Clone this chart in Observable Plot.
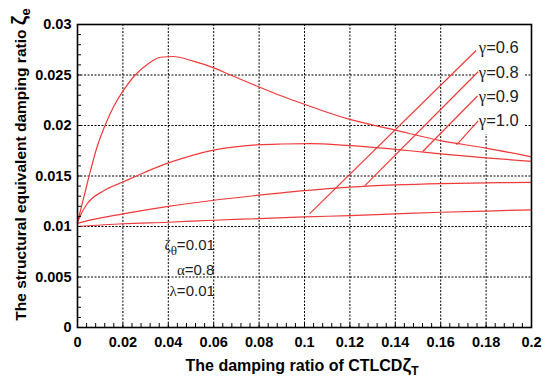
<!DOCTYPE html>
<html><head><meta charset="utf-8">
<script src="https://cdn.jsdelivr.net/npm/d3@7"></script>
<script src="https://cdn.jsdelivr.net/npm/@observablehq/plot@0.6"></script>
<style>
html,body{margin:0;padding:0;background:#fff;}
#chart{width:543px;height:379px;overflow:hidden;}
</style></head><body><div id="chart"></div>
<script>
// ---- tick values & labels ----
const xTickValues = [0, 0.02, 0.04, 0.06, 0.08, 0.1, 0.12, 0.14, 0.16, 0.18, 0.2];
const xTickLabels = ["0", "0.02", "0.04", "0.06", "0.08", "0.1", "0.12", "0.14", "0.16", "0.18", "0.2"];
const yTickValues = [0, 0.005, 0.01, 0.015, 0.02, 0.025, 0.03];
const yTickLabels = ["0", "0.005", "0.01", "0.015", "0.02", "0.025", "0.03"];
const xMinorStep = 0.004;
const yMinorStep = 0.001;

// ---- series ----
const gamma10X = [0, 0.0028, 0.0057, 0.0085, 0.0123, 0.016, 0.02, 0.025, 0.031, 0.0366, 0.042, 0.051, 0.06, 0.0674, 0.08, 0.089, 0.1, 0.107, 0.12, 0.14, 0.16, 0.18, 0.2];
const gamma10Y = [0.0104, 0.0129, 0.0155, 0.0178, 0.0201, 0.0219, 0.0234, 0.0249, 0.0261, 0.02676, 0.02683, 0.02637, 0.02571, 0.0250, 0.02381, 0.0230, 0.0221, 0.02154, 0.0206, 0.01954, 0.0185, 0.01776, 0.0169];

const gamma09X = [0, 0.0015, 0.0041, 0.0116, 0.02, 0.0295, 0.04, 0.0455, 0.06, 0.08, 0.09, 0.1025, 0.12, 0.1465, 0.16, 0.18, 0.2];
const gamma09Y = [0.0104, 0.0112, 0.0122, 0.01355, 0.0144, 0.01535, 0.0163, 0.0167, 0.01756, 0.0181, 0.01817, 0.0182, 0.0180, 0.0175, 0.0172, 0.0168, 0.01645];

const gamma08X = [0, 0.005, 0.02, 0.04, 0.06, 0.08, 0.1, 0.12, 0.14, 0.16, 0.18, 0.2];
const gamma08Y = [0.0103, 0.0106, 0.01125, 0.0120, 0.0126, 0.0131, 0.01355, 0.0139, 0.01412, 0.01425, 0.01432, 0.01437];

const gamma06X = [0, 0.02, 0.04, 0.06, 0.08, 0.1, 0.12, 0.14, 0.16, 0.18, 0.2];
const gamma06Y = [0.0100, 0.01027, 0.01042, 0.01062, 0.01078, 0.01095, 0.01108, 0.01125, 0.01141, 0.01153, 0.01165];

// ---- annotations (data coordinates) ----
const leaderLabels = ["γ=0.6", "γ=0.8", "γ=0.9", "γ=1.0"];
const leaderX1 = [0.1022, 0.1266, 0.1521, 0.1670];
const leaderY1 = [0.01125, 0.01404, 0.01743, 0.01809];
const leaderX2 = [0.1756, 0.1765, 0.1762, 0.1765];
const leaderY2 = [0.02743, 0.02532, 0.02292, 0.02045];
const labelX = [0.1768, 0.1768, 0.1768, 0.1768];
const labelY = [0.02768, 0.02522, 0.02285, 0.02045];
const labelBoxX = [0.1758, 0.1969];
const labelBoxY = [0.0191, 0.03];

const paramLabels = ["ζθ=0.01", "α=0.8", "λ=0.01"];
const paramX = [0.0605, 0.0603, 0.0605];
const paramY = [0.00812, 0.00566, 0.00362];

const xTitle = ["The damping ratio of CTLCD", "ζ", "T"];
const yTitle = ["The structural equivalent damping ratio ", "ζ", "e"];

// ---- build tables ----
const curves = [
  ...gamma10X.map((x, i) => ({gamma: "1.0", x, y: gamma10Y[i]})),
  ...gamma09X.map((x, i) => ({gamma: "0.9", x, y: gamma09Y[i]})),
  ...gamma08X.map((x, i) => ({gamma: "0.8", x, y: gamma08Y[i]})),
  ...gamma06X.map((x, i) => ({gamma: "0.6", x, y: gamma06Y[i]}))
];
const leaders = leaderLabels.map((t, i) => ({t, x1: leaderX1[i], y1: leaderY1[i], x2: leaderX2[i], y2: leaderY2[i], lx: labelX[i], ly: labelY[i]}));
const params = paramLabels.map((t, i) => ({t, x: paramX[i], y: paramY[i]}));
const box = [{x1: labelBoxX[0], x2: labelBoxX[1], y1: labelBoxY[0], y2: labelBoxY[1]}];
const xMinor = d3.range(0, Math.round(0.2 / xMinorStep) + 1).map(i => +(i * xMinorStep).toFixed(4));
const yMinor = d3.range(0, Math.round(0.03 / yMinorStep) + 1).map(i => +(i * yMinorStep).toFixed(4));

const RED = "#f03a3a";
const W = 543, H = 379, ML = 77, MR = 12, MT = 24, MB = 52;
const grid = {stroke: "black", strokeOpacity: 1, strokeWidth: 1, strokeDasharray: "2,1.5"};

const plot = Plot.plot({
  width: W, height: H,
  marginLeft: ML, marginRight: MR, marginTop: MT, marginBottom: MB,
  x: {domain: [0, 0.2]},
  y: {domain: [0, 0.03]},
  style: {fontFamily: "Arial, 'Liberation Sans', sans-serif", background: "white", color: "black", overflow: "visible"},
  marks: [
    Plot.ruleX(xTickValues.slice(1, -1), grid),
    Plot.ruleY(yTickValues.slice(1, -1), grid),
    Plot.rect(box, {x1: "x1", x2: "x2", y1: "y1", y2: "y2", fill: "white"}),
    Plot.line(curves, {x: "x", y: "y", z: "gamma", stroke: RED, strokeWidth: 1.2, curve: "monotone-x"}),
    Plot.link(leaders, {x1: "x1", y1: "y1", x2: "x2", y2: "y2", stroke: RED, strokeOpacity: 1, strokeWidth: 1.2}),
    Plot.text(leaders, {x: "lx", y: "ly", text: "t", textAnchor: "start", fontSize: 16.5, fill: "#222"}),
    Plot.text(params, {x: "x", y: "y", text: "t", textAnchor: "end", fontSize: 15, fill: "#222"}),
    Plot.axisX(xMinor, {anchor: "bottom", tickSize: -4, tickFormat: () => "", stroke: "black"}),
    Plot.axisY(yMinor, {anchor: "left", tickSize: -4, tickFormat: () => "", stroke: "black"}),
    Plot.axisX(xTickValues, {anchor: "bottom", tickSize: 0, tickPadding: 9, fontSize: 14.5, fontWeight: "bold", label: null,
      tickFormat: d => xTickLabels[xTickValues.indexOf(d)]}),
    Plot.axisY(yTickValues, {anchor: "left", tickSize: 0, tickPadding: 6, fontSize: 14.5, fontWeight: "bold", label: null,
      tickFormat: d => yTickLabels[yTickValues.indexOf(d)]}),
    Plot.frame({stroke: "black", strokeWidth: 1.6})
  ]
});
document.getElementById("chart").appendChild(plot);

// ---- rich text: serif greek letters, subscripts ----
const isGreek = ch => /[\u0370-\u03ff]/.test(ch);
plot.querySelectorAll("text").forEach(el => {
  const s = el.textContent;
  if (!/[\u0370-\u03ff]/.test(s) || el.querySelector("tspan")) return;
  el.textContent = "";
  const chars = [...s];
  let i = 0, prevGreek = false, shifted = false;
  while (i < chars.length) {
    const ch = chars[i];
    const ts = document.createElementNS("http://www.w3.org/2000/svg", "tspan");
    if (isGreek(ch)) {
      ts.textContent = ch;
      ts.setAttribute("font-family", "'Liberation Serif', 'DejaVu Serif', serif");
      if (prevGreek) { ts.setAttribute("dy", "5"); ts.setAttribute("font-size", "13"); shifted = true; }
      prevGreek = true; i++;
    } else {
      let run = "";
      while (i < chars.length && !isGreek(chars[i])) run += chars[i++];
      ts.textContent = run;
      if (shifted) { ts.setAttribute("dy", "-5"); shifted = false; }
      prevGreek = false;
    }
    el.appendChild(ts);
  }
});

// ---- axis titles ----
const svg = d3.select(plot);
const xt = svg.append("text")
  .attr("x", ML + (W - ML - MR) / 2 - 2).attr("y", 371)
  .attr("text-anchor", "middle").attr("font-weight", "bold").attr("font-size", 16).attr("fill", "black");
xt.append("tspan").text(xTitle[0]);
xt.append("tspan").text(xTitle[1]).attr("font-size", 19);
xt.append("tspan").text(xTitle[2]).attr("font-size", 12).attr("dy", 4);

const yt = svg.append("text")
  .attr("transform", `translate(26,${MT + (H - MT - MB) / 2 - 11}) rotate(-90)`)
  .attr("text-anchor", "middle").attr("font-weight", "bold").attr("font-size", 15.5).attr("fill", "black");
yt.append("tspan").text(yTitle[0]);
yt.append("tspan").text(yTitle[1]).attr("font-size", 21);
yt.append("tspan").text(yTitle[2]).attr("font-size", 13).attr("dy", 4);
</script>
</body></html>
